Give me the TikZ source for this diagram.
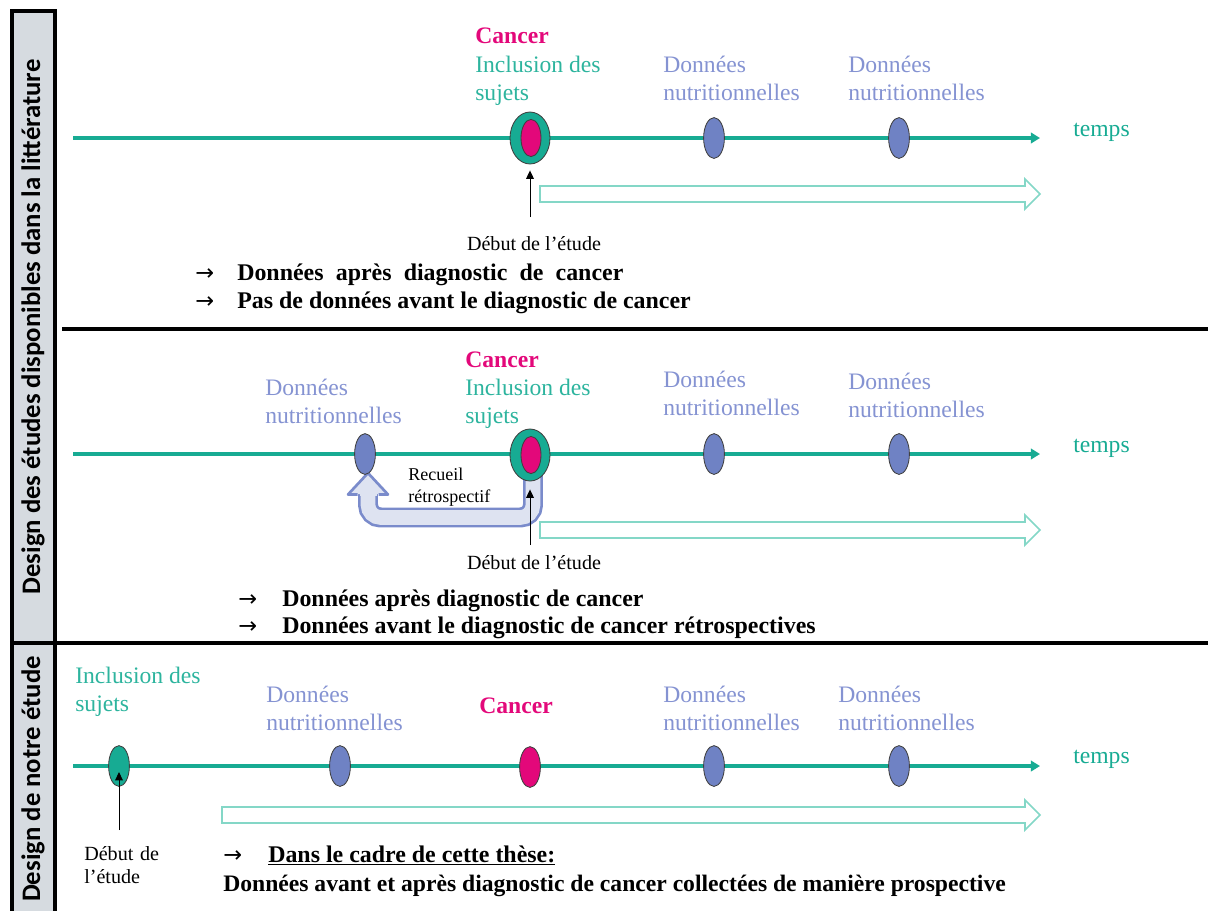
\documentclass[tikz,border=0pt]{standalone}
\usepackage{fontspec}
\setmainfont{Liberation Serif}
\newfontfamily\sidefont{Carlito}
\newfontfamily\arrowfont{DejaVu Sans}
\usetikzlibrary{shapes.geometric,arrows.meta}

\definecolor{timeteal}{HTML}{17AB93}
\definecolor{inclteal}{HTML}{2DB49E}
\definecolor{cancerpink}{HTML}{E3087A}
\definecolor{nutriblue}{HTML}{6F82C4}
\definecolor{nutritext}{HTML}{8593D2}
\definecolor{hollowteal}{HTML}{84D7C7}
\definecolor{retroblue}{HTML}{7A8BCB}
\definecolor{retrofill}{HTML}{DEE3F1}
\definecolor{sidegray}{HTML}{D6DBE0}

\tikzset{
  tline/.style={draw=timeteal, line width=2.4pt, -{Triangle[length=6.5pt,width=7.5pt]}},
  nutri/.style={ellipse, draw=black!75, line width=0.6pt, fill=nutriblue, inner sep=0pt,
    minimum width=0.52cm, minimum height=1.02cm},
  cancer/.style={nutri, fill=cancerpink},
  incl/.style={nutri, fill=timeteal},
  bigincl/.style={incl, minimum width=1cm, minimum height=1.3cm},
  innercancer/.style={cancer, minimum width=0.5cm, minimum height=0.93cm},
  lbl/.style={anchor=base west, align=left, inner sep=0pt, font=\fontsize{16.8}{19.9}\selectfont},
  nutrilbl/.style={lbl, text=nutritext},
  incllbl/.style={lbl, text=inclteal},
  cancerlbl/.style={lbl, text=cancerpink, font=\bfseries\fontsize{16.8}{19.9}\selectfont},
  tempslbl/.style={lbl, text=timeteal},
  startarr/.style={-{Triangle[length=6pt,width=5.5pt]}, line width=0.7pt},
  startlbl/.style={anchor=base, align=left, inner sep=0pt, font=\fontsize{14.3}{17}\selectfont},
  bullet/.style={anchor=base west, inner sep=0pt, font=\bfseries\fontsize{17}{20}\selectfont},
  bularr/.style={anchor=base west, inner sep=0pt, font=\arrowfont\fontsize{16}{18}\selectfont},
  hollow/.style={draw=hollowteal, line width=1.1pt, fill=white},
  sep/.style={line width=2.4pt},
  side/.style={rotate=90, inner sep=0pt, font=\sidefont\bfseries\fontsize{19}{22}\selectfont}
}

% hollow time arrow: from x=#1 to x=#2 at height #3
\newcommand{\hollowarrow}[3]{%
  \draw[hollow] (#1,#3-8) -- (#2-15,#3-8) -- (#2-15,#3-15) -- (#2,#3)
    -- (#2-15,#3+15) -- (#2-15,#3+8) -- (#1,#3+8) -- cycle;}

\begin{document}
\begin{tikzpicture}[x=0.025cm, y=-0.025cm]
      \path[use as bounding box] (0,0) rectangle (1208,910);

      % frame
      \draw[sep, fill=sidegray] (12,11) rectangle (55,643);
      \draw[sep, fill=sidegray] (12,643) rectangle (55,925);
      \draw[sep] (62,329) -- (1208,329);
      \draw[sep] (12,643) -- (1208,643);
      \node[side] (side1) at (33,327) {Design des études disponibles dans la littérature};
      \node[side] (side2) at (33,779) {Design de notre étude};

      % first panel (multi-line labels sit on their last baseline)
      \coordinate (s1) at (73,138);
      \coordinate (e1) at (1040,138);
      \draw[tline] (s1) -- (e1);
      \node[bigincl] (inc1) at (530,138) {};
      \node[innercancer] (can1) at (531,138) {};
      \node[nutri] (na1) at (714,138) {};
      \node[nutri] (nb1) at (899,138) {};
      \node[cancerlbl] (tc1) at (475,43) {Cancer};
      \node[incllbl] (ti1) at (475,100) {Inclusion des\\sujets};
      \node[nutrilbl] (tna1) at (663,100) {Données\\nutritionnelles};
      \node[nutrilbl] (tnb1) at (848,100) {Données\\nutritionnelles};
      \node[tempslbl] (tt1) at (1073,136) {temps};
      \hollowarrow{540}{1040}{194}
      \coordinate (d1) at (530,217);
      \draw[startarr] (d1) -- ([yshift=-0.15cm]inc1.south);
      \node[startlbl] (sl1) at (534,250) {Début de l’étude};
      \node[bularr] (ba1) at (195,280) {→};
      \node[bullet] (bt1) at (237,280) {\makebox[9.65cm][s]{Données après diagnostic de cancer}};
      \node[bularr] (ba2) at (195,308) {→};
      \node[bullet] (bt2) at (237,308) {Pas de données avant le diagnostic de cancer};

      % second panel
      \coordinate (s2) at (73,454);
      \coordinate (e2) at (1040,454);
      \draw[tline] (s2) -- (e2);
      \hollowarrow{540}{1040}{530}
      \draw[draw=retroblue, line width=1.9pt, double=retrofill, double distance=10.4pt,
        rounded corners=9pt] (533,462) -- (533,517.5) -- (368,517.5) -- (368,493);
      \fill[retrofill] (348,494) -- (368,473) -- (388,494) -- cycle;
      \fill[retrofill] (359.5,492) rectangle (376.5,496);
      \draw[draw=retroblue, line width=1.9pt, line join=round]
        (357.5,494.5) -- (348,494.5) -- (368,473) -- (388,494.5) -- (378.5,494.5);
      \node[nutri] (nr2) at (365,454) {};
      \node[bigincl] (inc2) at (530,455) {};
      \node[innercancer] (can2) at (531,455) {};
      \node[nutri] (na2) at (714,454) {};
      \node[nutri] (nb2) at (899,454) {};
      \node[nutrilbl] (tnr2) at (265,423) {Données\\nutritionnelles};
      \node[cancerlbl] (tc2) at (465,367) {Cancer};
      \node[incllbl] (ti2) at (465,423) {Inclusion des\\sujets};
      \node[nutrilbl] (tna2) at (663,415) {Données\\nutritionnelles};
      \node[nutrilbl] (tnb2) at (848,417) {Données\\nutritionnelles};
      \node[tempslbl] (tt2) at (1073,452) {temps};
      \node[startlbl, anchor=base west, font=\fontsize{12.8}{15.6}\selectfont] (rr2) at (408,502)
        {Recueil\\rétrospectif};
      \coordinate (d2) at (530,545);
      \draw[startarr] (d2) -- ([yshift=-0.2cm]inc2.south);
      \node[startlbl] (sl2) at (534,569) {Début de l’étude};
      \node[bularr] (ba3) at (238,606) {→};
      \node[bullet] (bt3) at (282,606) {Données après diagnostic de cancer};
      \node[bularr] (ba4) at (238,633) {→};
      \node[bullet] (bt4) at (282,633) {Données avant le diagnostic de cancer rétrospectives};

      % third panel
      \coordinate (s3) at (73,766);
      \coordinate (e3) at (1040,766);
      \draw[tline] (s3) -- (e3);
      \node[incl] (inc3) at (119,766) {};
      \node[nutri] (na3) at (340,766) {};
      \node[cancer] (can3) at (530,767) {};
      \node[nutri] (nb3) at (714,766) {};
      \node[nutri] (nc3) at (899,766) {};
      \node[incllbl] (ti3) at (75,711) {Inclusion des\\sujets};
      \node[nutrilbl] (tna3) at (266,730) {Données\\nutritionnelles};
      \node[cancerlbl, anchor=base] (tc3) at (516,713) {Cancer};
      \node[nutrilbl] (tnb3) at (663,730) {Données\\nutritionnelles};
      \node[nutrilbl] (tnc3) at (838,730) {Données\\nutritionnelles};
      \node[tempslbl] (tt3) at (1073,763) {temps};
      \hollowarrow{222}{1040}{815}
      \coordinate (d3) at (119,830);
      \draw[startarr] (d3) -- ([yshift=-0.15cm]inc3.center);
      % text width: base is the first line here
      \node[startlbl, anchor=base west, text width=2cm, font=\fontsize{14.3}{17}\selectfont] (sl3) at (84,860)
        {Début de\\l’étude};
      \node[bularr] (ba5) at (223,862) {→};
      \node[bullet] (bt5) at (268,862) {\underline{Dans le cadre de cette thèse:}};
      \node[bullet, font=\bfseries\fontsize{16.8}{20}\selectfont] (bt6) at (223,891)
        {Données avant et après diagnostic de cancer collectées de manière prospective};
    \end{tikzpicture}
\end{document}
